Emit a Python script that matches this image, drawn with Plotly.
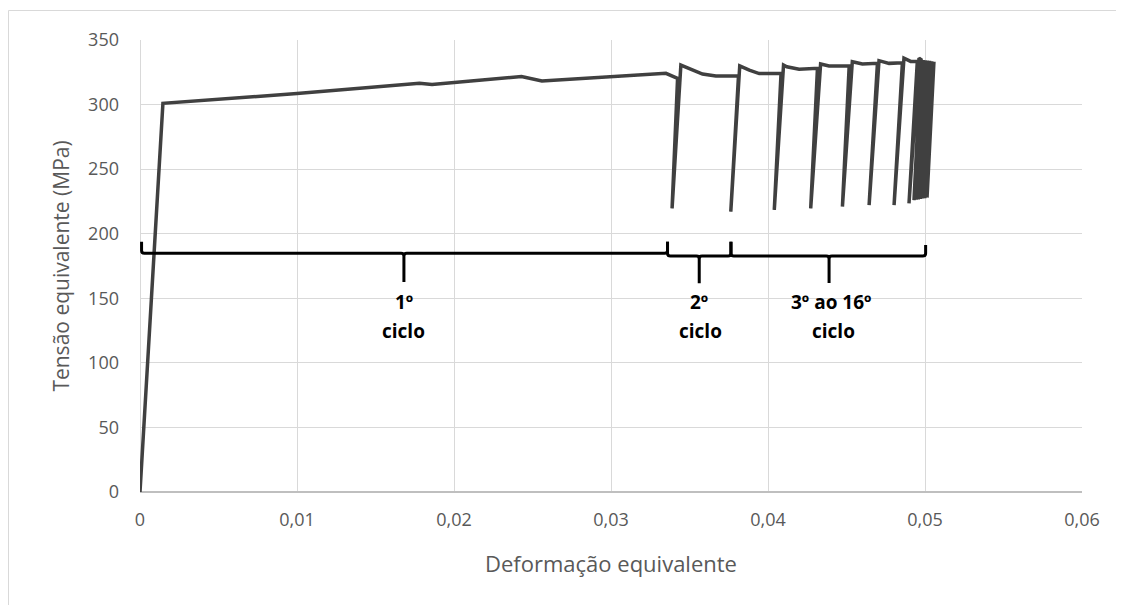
import plotly.graph_objects as go

# ---- data ----
strain = [
    0, 0.00146, 0.0100, 0.0130, 0.0178, 0.0186, 0.0243, 0.0256, 0.0335, 0.03424,
    0.03389, 0.03445, 0.03498, 0.03583, 0.03668, 0.03812,
    0.03763, 0.03820, 0.03881, 0.03944, 0.04083,
    0.04040, 0.04099, 0.04120, 0.04198, 0.04315,
    0.04272, 0.04335, 0.04389, 0.04517,
    0.04474, 0.04537, 0.04601, 0.04697,
    0.04644, 0.04707, 0.04771, 0.04856,
    0.04803, 0.04866, 0.04909, 0.04951,
    0.04898, 0.04962, 0.04975,
    0.04930, 0.04974, 0.04944, 0.04988, 0.04957, 0.05001, 0.04971, 0.05015,
    0.04985, 0.05029, 0.04999, 0.05043, 0.05013, 0.05057,
]
stress = [
    0, 301.0, 308.5, 311.5, 316.5, 315.5, 321.8, 318.2, 324.2, 320.3,
    219.6, 330.6, 328.0, 323.6, 322.1, 322.1,
    217.1, 329.9, 326.6, 324.0, 324.0,
    218.4, 330.6, 329.3, 327.3, 328.1,
    219.6, 331.4, 329.9, 329.9,
    221.0, 333.2, 331.4, 331.9,
    222.2, 334.0, 331.9, 332.4,
    222.2, 335.9, 333.4, 333.4,
    223.4, 335.9, 334.8,
    226.0, 334.6, 226.3, 334.6, 226.6, 334.4, 227.0, 334.2,
    227.3, 334.0, 227.6, 333.6, 228.0, 333.2,
]

# cycle groups (strain limits) and their labels
group_start = [0.0001, 0.0336, 0.03764]
group_end = [0.0336, 0.03764, 0.05004]
group_mid = [0.01681, 0.03562, 0.04389]
label_line1 = ["1º", "2º", "3º ao 16º"]
label_line2 = ["ciclo", "ciclo", "ciclo"]
x_ticks = [0, 0.01, 0.02, 0.03, 0.04, 0.05, 0.06]
y_ticks = [0, 50, 100, 150, 200, 250, 300, 350]

# ---- figure ----
FONT = "Open Sans"
TXT = "#595959"
fig = go.Figure()
fig.add_trace(go.Scatter(
    x=strain, y=stress, mode="lines",
    line=dict(color="#404040", width=3.5),
    showlegend=False, hoverinfo="skip",
))

# bracket geometry (layout styling, data units)
levels = [184.8, 182.7, 182.7]
tops_left = [193.8, 193.8, 193.8]
tops_right = [193.8, 193.8, 191.3]
tips = [162.6, 161.6, 161.8]
rx, ry = 0.00018, 2.2

shapes = []
for i in range(len(group_start)):
    x0, x1, xm = group_start[i], group_end[i], group_mid[i]
    y = levels[i]
    p = (f"M {x0},{tops_left[i]} L {x0},{y+ry} Q {x0},{y} {x0+rx},{y} "
         f"L {xm-rx},{y} Q {xm},{y} {xm},{y-ry} L {xm},{tips[i]} "
         f"M {xm},{y-ry} Q {xm},{y} {xm+rx},{y} "
         f"L {x1-rx},{y} Q {x1},{y} {x1},{y+ry} L {x1},{tops_right[i]}")
    shapes.append(dict(type="path", path=p, xref="x", yref="y",
                       line=dict(color="black", width=3)))

# page body has an 8px margin -> figure coordinates = page coordinates - 8
OFF = 8
FW, FH = 1124 - OFF, 605 - OFF
L, R, T, B = 140 - OFF, 1082 - OFF, 40 - OFF, 492 - OFF
W, H = R - L, B - T

# outer chart border (top and left visible)
shapes.append(dict(type="rect", xref="paper", yref="paper",
                   x0=(0.5 - L) / W, x1=(FW + 20 - L) / W,
                   y0=(B - FH - 20) / H, y1=(B - 2.5) / H,
                   line=dict(color="#d9d9d9", width=1), layer="below"))

annotations = []
label_x_1 = [0.01681, 0.03562, 0.04400]
label_x_2 = [0.01681, 0.03573, 0.04420]
for i in range(len(label_line1)):
    annotations.append(dict(x=label_x_1[i], y=147.5, xref="x", yref="y",
                            text=f"<b>{label_line1[i]}</b>", showarrow=False,
                            font=dict(family=FONT, size=19, color="black")))
    annotations.append(dict(x=label_x_2[i], y=124.3, xref="x", yref="y",
                            text=f"<b>{label_line2[i]}</b>", showarrow=False,
                            font=dict(family=FONT, size=19, color="black")))

fig.update_layout(
    width=FW, height=FH, autosize=False,
    margin=dict(l=L, r=FW - R, t=T, b=FH - B, pad=0),
    paper_bgcolor="white", plot_bgcolor="white",
    separators=", ",
    font=dict(family=FONT, color=TXT),
    shapes=shapes, annotations=annotations,
    xaxis=dict(
        range=[0, 0.06], tickvals=x_ticks, tickformat=".2~f",
        showgrid=True, gridcolor="#d9d9d9", gridwidth=1,
        zeroline=True, zerolinecolor="#d9d9d9", zerolinewidth=1,
        showline=False, ticks="", ticklabelstandoff=15,
        tickfont=dict(family=FONT, size=18, color=TXT),
        title=dict(text="Deformação equivalente", standoff=26,
                   font=dict(family=FONT, size=22, color=TXT)),
    ),
    yaxis=dict(
        range=[0, 350], tickvals=y_ticks,
        showgrid=True, gridcolor="#d9d9d9", gridwidth=1,
        zeroline=True, zerolinecolor="#bfbfbf", zerolinewidth=1.5,
        showline=False, ticks="", ticklabelstandoff=20,
        tickfont=dict(family=FONT, size=18, color=TXT),
        title=dict(text="Tensão equivalente (MPa)", standoff=12,
                   font=dict(family=FONT, size=21, color=TXT)),
    ),
)

fig.write_html("out.html")
